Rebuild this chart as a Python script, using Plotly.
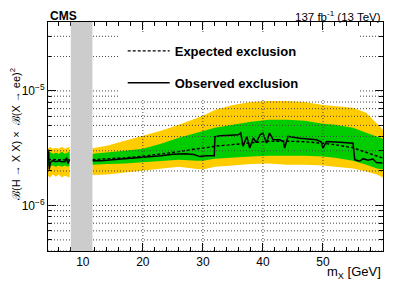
import plotly.graph_objects as go

# ---------------- data (values in units of 1e-6) ----------------
SCALE = 1e-6
gap_region = [8.0, 11.6]

x_left = [4.2, 4.5, 5.0, 5.5, 6.0, 6.5, 7.0, 7.5, 7.8]
up2_left = [3.13, 3.26, 3.13, 3.19, 3.13, 3.26, 3.13, 3.19, 3.26]
up1_left = [2.83, 2.95, 2.83, 2.89, 2.83, 2.95, 2.83, 2.89, 2.95]
exp_left = [2.51, 2.50, 2.52, 2.51, 2.50, 2.52, 2.51, 2.50, 2.51]
dn1_left = [2.23, 2.18, 2.23, 2.18, 2.23, 2.18, 2.23, 2.18, 2.23]
dn2_left = [1.82, 1.75, 1.86, 1.78, 1.86, 1.75, 1.82, 1.78, 1.75]

xo_left = [4.2, 4.3, 4.4, 4.6, 5.0, 5.5, 6.0, 6.5, 7.0, 7.3, 7.5, 7.8]
obs_left = [2.51, 3.07, 2.06, 2.37, 2.46, 2.41, 2.46, 2.41, 2.41, 2.61, 2.32, 2.51]

x_right = [11.6, 14, 17, 20, 23, 26, 29, 30, 32, 35, 38, 41, 44, 47, 50, 52, 55, 57.2, 59, 60]
up2_right = [3.16, 3.32, 3.67, 4.06, 4.49, 5.06, 5.83, 6.06, 6.83, 7.55, 8.02, 8.18, 8.18, 8.02,
             7.55, 7.33, 7.12, 6.44, 5.16, 4.58]
up1_right = [2.83, 2.89, 3.01, 3.13, 3.46, 3.90, 4.31, 4.49, 4.77, 5.06, 5.38, 5.60, 5.60, 5.49,
             5.16, 5.06, 4.77, 4.31, 3.98, 3.83]
exp_right = [2.51, 2.54, 2.61, 2.69, 2.80, 2.95, 3.13, 3.16, 3.29, 3.39, 3.53, 3.64, 3.64, 3.60,
             3.49, 3.39, 3.19, 2.89, 2.67, 2.59]
dn1_right = [2.27, 2.30, 2.32, 2.37, 2.44, 2.51, 2.46, 2.46, 2.56, 2.61, 2.67, 2.72, 2.72, 2.72,
             2.67, 2.61, 2.46, 2.27, 2.10, 2.06]
dn2_right = [1.84, 1.86, 1.94, 2.00, 2.10, 2.18, 2.08, 2.06, 2.18, 2.23, 2.30, 2.32, 2.27, 2.27,
             2.23, 2.18, 2.10, 1.98, 1.86, 1.75]

xo_right = [11.6, 13, 15, 17, 19, 21, 23, 25, 27, 28.5, 29.5, 30.5, 31.9, 32.0, 32.8, 34.5, 35.9,
            36.3, 36.7, 37.3, 37.8, 38.4, 38.9, 39.5, 40.0, 40.6, 41.1, 41.7, 42.8, 43.4, 43.6,
            44.2, 46.1, 48.9, 49.7, 50.0, 50.6, 52.8, 55.0, 55.3, 56.1, 56.7, 57.5, 58.3, 58.9, 59.9]
obs_right = [2.46, 2.46, 2.51, 2.56, 2.61, 2.64, 2.72, 2.80, 2.83, 2.78, 2.67, 2.72, 2.72, 3.98,
             4.06, 4.10, 4.14, 4.31, 3.28, 4.01, 3.17, 3.88, 3.53, 4.14, 4.29, 3.51, 4.29, 3.75,
             3.75, 3.62, 3.17, 4.01, 3.86, 3.75, 3.60, 3.17, 3.62, 3.57, 3.49, 2.51, 2.43, 2.56,
             2.48, 2.54, 2.37, 2.35]

x_ticks = [10, 20, 30, 40, 50]
y_major = [1e-6, 1e-5]
y_major_text = ["10<sup>\u22126</sup>", "10<sup>\u22125</sup>"]
y_minor = [4e-7, 5e-7, 6e-7, 7e-7, 8e-7, 9e-7,
           2e-6, 3e-6, 4e-6, 5e-6, 6e-6, 7e-6, 8e-6, 9e-6, 2e-5, 3e-5]
x_range = [4.2, 60]

YELLOW = "#ffcc00"
GREEN = "#00cc00"
FONT = "Liberation Sans, Arial, sans-serif"


def s(v):
    return [a * SCALE for a in v]


def band(x, lo, hi, color):
    return go.Scatter(x=list(x) + list(x)[::-1], y=s(hi) + s(lo)[::-1], fill="toself",
                      fillcolor=color, line=dict(width=0), mode="lines",
                      showlegend=False, hoverinfo="skip")


fig = go.Figure()
for xs, d2, u2, d1, u1 in [(x_left, dn2_left, up2_left, dn1_left, up1_left),
                           (x_right, dn2_right, up2_right, dn1_right, up1_right)]:
    fig.add_trace(band(xs, d2, u2, YELLOW))
    fig.add_trace(band(xs, d1, u1, GREEN))

fig.add_trace(go.Scatter(x=x_left + [None] + x_right, y=s(exp_left) + [None] + s(exp_right),
                         mode="lines", line=dict(color="black", width=1.4, dash="3px,2px"),
                         name="Expected exclusion", legendgroup="e"))
fig.add_trace(go.Scatter(x=xo_left + [None] + xo_right, y=s(obs_left) + [None] + s(obs_right),
                         mode="lines", line=dict(color="black", width=1.5),
                         name="Observed exclusion", legendgroup="o"))

shapes = []
grid = dict(color="#444444", width=1, dash="1px,2px")
for yv in y_minor + y_major:
    shapes.append(dict(type="line", xref="paper", yref="y", x0=0, x1=1, y0=yv, y1=yv,
                       line=grid, layer="above"))
for xv in x_ticks:
    shapes.append(dict(type="line", xref="x", yref="paper", x0=xv, x1=xv, y0=0, y1=1,
                       line=grid, layer="above"))
shapes.append(dict(type="rect", xref="x", yref="paper", x0=gap_region[0], x1=gap_region[1],
                   y0=0, y1=1, fillcolor="#cccccc", line=dict(width=0), layer="above"))
shapes.append(dict(type="rect", xref="paper", yref="paper", x0=0.215, x1=0.931, y0=0.662,
                   y1=0.948, fillcolor="white", line=dict(width=0), layer="above"))

# page has an 8px body margin: figure is 391x278 placed at (8, 8)
fig.update_layout(
    width=391, height=278, margin=dict(l=40, r=16, t=14, b=35, autoexpand=False),
    plot_bgcolor="white", paper_bgcolor="white",
    font=dict(family=FONT, size=12, color="black"),
    shapes=shapes,
    showlegend=True,
    legend=dict(x=0.223, y=0.939, xanchor="left", yanchor="top", bgcolor="rgba(0,0,0,0)",
                font=dict(size=13, weight="bold", family=FONT), tracegroupgap=12,
                itemwidth=42),
    xaxis=dict(range=x_range, tickvals=x_ticks, ticks="inside", ticklen=8, tickcolor="black",
               showgrid=False, zeroline=False, showline=True, linecolor="black", linewidth=1,
               mirror="allticks", layer="above traces", tickfont=dict(size=12),
               automargin=False,
               minor=dict(dtick=2, tick0=0, ticks="inside", ticklen=4, tickcolor="black")),
    yaxis=dict(type="log", range=[-6.39794, -4.39794], tickvals=y_major, ticktext=y_major_text,
               ticks="inside", ticklen=8, tickcolor="black", showgrid=False, zeroline=False,
               showline=True, linecolor="black", linewidth=1, mirror="allticks",
               layer="above traces", tickfont=dict(size=12), automargin=False,
               minor=dict(tickmode="array", tickvals=y_minor, ticks="inside", ticklen=4,
                          tickcolor="black")),
    annotations=[
        dict(text="<b>CMS</b>", xref="paper", yref="paper", x=0, y=1.028, xanchor="left",
             yanchor="middle", showarrow=False, font=dict(size=12)),
        dict(text="137 fb<sup>-1</sup> (13 TeV)", xref="paper", yref="paper", x=1, y=1.028,
             xanchor="right", yanchor="middle", showarrow=False, font=dict(size=11.5)),
        dict(text="m<sub>X</sub> [GeV]", xref="paper", yref="paper", x=1, y=-0.092,
             xanchor="right", yanchor="middle", showarrow=False, font=dict(size=13)),
        dict(text="\u212c(H \u2192 X X) \u00d7  \u212c(X \u2192 ee)<sup>2</sup>", xref="paper",
             yref="paper", x=-0.097, y=0.509, xanchor="center", yanchor="middle",
             textangle=-90, showarrow=False, font=dict(size=11)),
    ],
)

fig.write_html("out.html")
